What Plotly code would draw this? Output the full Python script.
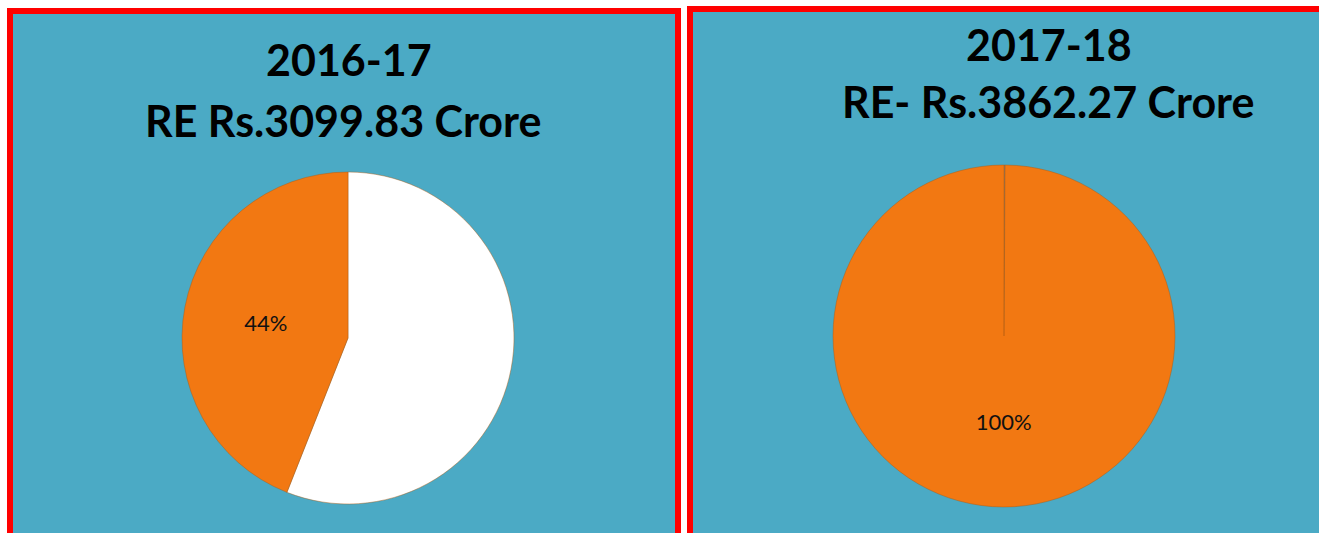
import plotly.graph_objects as go

W, H = 1319, 533

# ---- data ----
years = ["2016-17", "2017-18"]
subtitles = ["RE Rs.3099.83 Crore", "RE- Rs.3862.27 Crore"]
slice_labels = ["Other", "Share"]
values_1617 = [56, 44]
values_1718 = [0.1, 99.9]
colors_1617 = ["#FFFFFF", "#F27812"]
colors_1718 = ["#8A8A8A", "#F27812"]

TEAL = "#4BAAC5"
RED = "#FF0000"


def px(x):
    return x / W


def py(y):
    return 1 - y / H


fig = go.Figure()

fig.add_trace(go.Pie(
    labels=slice_labels, values=values_1617, sort=False,
    direction="clockwise", rotation=0,
    marker=dict(colors=colors_1617, line=dict(color="rgba(170,90,20,0.45)", width=1)),
    texttemplate=["", "%{percent:.0%}"], textposition="inside",
    insidetextorientation="horizontal",
    textfont=dict(family="Lato", size=22, color="#111111"),
    domain=dict(x=[px(182), px(514)], y=[py(504), py(172)]),
    showlegend=False, hoverinfo="label+percent",
))

fig.add_trace(go.Pie(
    labels=slice_labels, values=values_1718, sort=False,
    direction="clockwise", rotation=0,
    marker=dict(colors=colors_1718, line=dict(color="rgba(170,90,20,0.45)", width=1)),
    texttemplate=["", "%{percent:.0%}"], textposition="inside",
    insidetextorientation="horizontal",
    textfont=dict(family="Lato", size=22, color="#111111"),
    domain=dict(x=[px(833), px(1175)], y=[py(507), py(165)]),
    showlegend=False, hoverinfo="label+percent",
))

shapes = [
    dict(type="rect", xref="paper", yref="paper", layer="below",
         x0=px(10), x1=px(678), y0=py(537), y1=py(11),
         fillcolor=TEAL, line=dict(color=RED, width=6)),
    dict(type="rect", xref="paper", yref="paper", layer="below",
         x0=px(690), x1=px(1326), y0=py(537), y1=py(9),
         fillcolor=TEAL, line=dict(color=RED, width=6)),
]

title_font = dict(family="Lato", size=43, color="#000000")
annotations = [
    dict(text="<b>%s</b>" % years[0], x=px(349), y=py(60), xref="paper", yref="paper",
         showarrow=False, font=title_font, xanchor="center", yanchor="middle"),
    dict(text="<b>%s</b>" % subtitles[0], x=px(343), y=py(120), xref="paper", yref="paper",
         showarrow=False, font=title_font, xanchor="center", yanchor="middle"),
    dict(text="<b>%s</b>" % years[1], x=px(1049), y=py(44), xref="paper", yref="paper",
         showarrow=False, font=title_font, xanchor="center", yanchor="middle"),
    dict(text="<b>%s</b>" % subtitles[1], x=px(1048), y=py(101), xref="paper", yref="paper",
         showarrow=False, font=title_font, xanchor="center", yanchor="middle"),
]

fig.update_layout(
    width=W, height=H,
    margin=dict(l=0, r=0, t=0, b=0),
    paper_bgcolor="#FFFFFF", plot_bgcolor="#FFFFFF",
    shapes=shapes, annotations=annotations,
    showlegend=False,
)

fig.write_html(
    "out.html",
    config={"displayModeBar": False},
    post_script="document.body.style.margin='0';document.body.style.overflow='hidden';",
)
